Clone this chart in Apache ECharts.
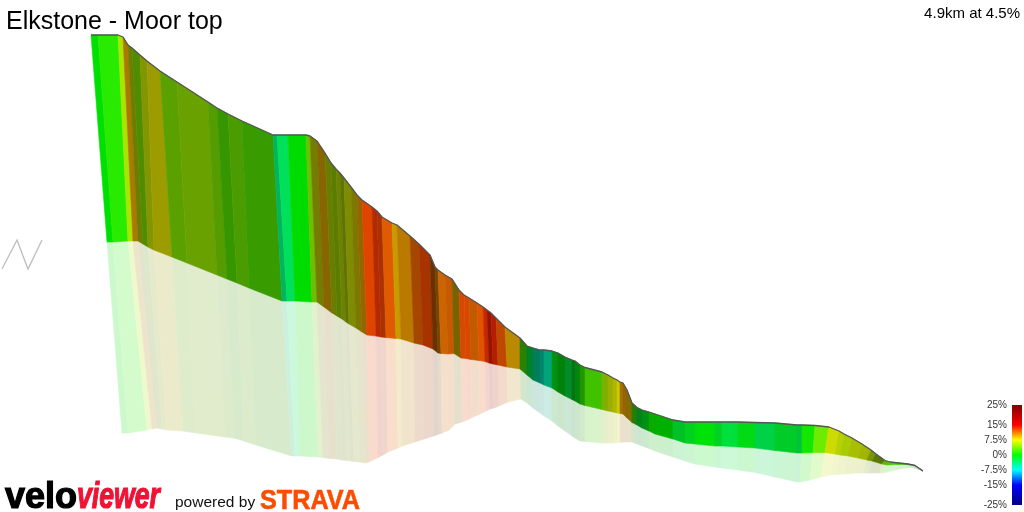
<!DOCTYPE html>
<html><head><meta charset="utf-8">
<style>html,body{margin:0;padding:0;background:#fff}#c{width:1024px;height:512px}</style>
<script src="https://cdn.jsdelivr.net/npm/echarts@6/dist/echarts.min.js"></script>
</head><body><div id="c"></div>
<script>
// Ridge line of the climb
const topX = [91,98,118,123,128,132,140,147,160,177,208,217,228,242,273,277,288,306,310,317,325,331,336,340,344,351,357,362,372,377,382,392,397,410,419,430,435,438,445,452,459,464,469,477,483,487,491,496,505,520,527,533,540,544,552,558,565,572,575,580,585,602,608,613,617,620,623,627,632,637,642,649,655,673,685,695,715,722,738,755,775,797,802,815,829,839,844,852,862,871,876,885,890,899,908,915,923];
const topY = [35,35,35,37,45,48,55,61,71,82,102,108,114,121,135,135,135,135,136,141,153,163,169,173,178,187,195,200,207,211,217,223,225,236,244,255,267,270,275,279,290,295,298,303,307,310,313,318,327,338,346,348,350,350,351,353,357,360,361,365,367.5,372,375,378,380,382,383,390,403,407.5,410,412,414,420,422,422,422,422,422,422.5,423,425,425,425.5,427,431,434,438,444,450,454,460.5,462,463,464,465.5,471];
// Foot of the coloured wall
const wallX = [107,113,128,133,138,143,148,154,172,187,217,227,237,249,282,287,295,312,317,324,332,337,342,346,349,356,362,367,376,381,386,396,401,414,423,433,438,441,448,454,461,466,471,479,485,489,493,498,507,520,527,533,540,544,552,558,565,572,575,580,585,602,608,613,617,620,623,627,632,637,642,649,655,673,685,695,715,722,738,755,775,797,802,813,825,835,840,848,858,867,872,882,887,897,907,915,923];
const wallY = [242,242,241,241,241,244,247,250,257,263,275,279,283,288,301,301,301,302,302,307,313,316,319,322,324,328,332,335,336,337,337.5,338.5,339,343,345,349,353,353.5,354,353.5,358,358.5,359.5,360.5,361.5,363,364,365,367,369,375,380,383,385,388,392,396,399.5,401,404,405.5,409.5,411,412,413,413.5,414,418,422.5,425,428,431,434,439,443,444,446,446,447,448,450.5,453,453,452.5,452.5,454,455,456,458,460,461,464,465,464.5,464.5,465.5,471];
// Edge of the pale shadow below the wall
const floorX = [122,128,147,152,157,160,162,167,183,196,225,234,244,256,292,295,300,318,323,329,337,342,347,351,354,360,366,370,378,383,388,398,402,415,424,434,439,442,449,455,462,467,472,480,486,490,494,499,508,521,527,533,540,544,552,558,565,572,575,580,585,602,608,613,617,620,623,627,632,637,642,649,655,673,685,695,715,722,738,755,775,797,800,810,821,830,836,844,854,864,869,880,885,895,905,912,923];
const floorY = [433,433,430,429,428,428.5,429,430,431,433,437,438,441,445,456,456,456,457,457.5,458.5,459,460,460.5,461,461.5,462,463,461.5,457.5,455,452,448,446,442,439,436,434,433,430,424,422,420,417.5,414,411,409,408,406,402,399,403,408,413,416,421,426,431,436,438,441,441.5,443,443,443,442.5,442.5,442,442,442,444,446,448.5,451,457,461,464,467,468,470,472.5,477,482,482,480,477,475,474.5,474,473,473,473,473,472.5,470,468,467.5,471];
// Gradient (%) and face brightness of each strip
const grade = [0,1.3,5.5,9.7,6.6,4.3,6.5,7.5,4.2,4.9,4.1,2.7,3.6,2.7,-3.8,-3,0,4.3,6.9,9.4,6.3,5.4,6.3,6.2,6.7,7.8,10,12.7,13.3,12.8,12,9.2,10.1,11.8,12.7,11.7,10.4,11.3,11.6,8.8,12.4,12.6,11.5,12.2,13.5,14,13.8,12.2,9.5,2.3,-2.3,-5.4,-6.1,-5.5,-1,-0.6,-2.1,-1.3,-0.6,1.5,2.5,5.4,6.6,7.3,7.3,10,10,8.7,2.4,-1.7,-1,0.4,0,-1.5,-1.1,-0.3,-1.4,-2,-0.7,-2.5,-1.5,-2.3,0.65,3.5,7,6.6,6.2,6.5,6.7,6,5.6,4.2,2.1,2,0.9,-2.2];
const light = [.88,.92,.9,.67,.49,.55,.59,.61,.63,.63,.61,.59,.61,.61,.71,.88,.86,.75,.49,.53,.49,.49,.51,.45,.55,.49,.59,.88,.71,.67,.88,.78,.73,.65,.65,.42,.45,.8,.78,.47,.84,.86,.76,.88,.78,.58,.71,.75,.73,.51,.51,.49,.53,.65,.57,.51,.55,.45,.53,.59,.76,.69,.69,.71,.8,.65,.59,.51,.49,.51,.57,.67,.69,.76,.82,.88,.82,.88,.86,.82,.8,.76,.9,.92,.86,.82,.8,.75,.71,.59,.47,.71,.82,.75,.67,.39];
// Colour scale and its tick labels
const scaleValues = [-25,-15,-7.5,0,7.5,15,25];
const scaleColours = [[0,0,130],[0,0,255],[0,255,255],[0,255,0],[255,255,0],[255,0,0],[130,0,0]];
const titleText = 'Elkstone - Moor top';
const summaryText = '4.9km at 4.5%';

function gradeRGB(g){
  for(let i=0;i<scaleValues.length-1;i++){
    if(g<=scaleValues[i+1]){
      const t=(g-scaleValues[i])/(scaleValues[i+1]-scaleValues[i]);
      return scaleColours[i].map((c,k)=>c+(scaleColours[i+1][k]-c)*t);
    }
  }
  return scaleColours[scaleColours.length-1];
}
const css=c=>'rgb('+c.map(v=>Math.round(v)).join(',')+')';
const wallColour=i=>gradeRGB(grade[i]).map(v=>v*light[i]);
const floorColour=i=>wallColour(i).map(v=>255*.8+v*.2);

const strips=grade.map((g,i)=>[i]);
function stripItem(api,upperX,upperY,lowerX,lowerY,colour){
  const i=api.value(0);
  const pts=[[upperX[i],upperY[i]],[upperX[i+1],upperY[i+1]],[lowerX[i+1],lowerY[i+1]],[lowerX[i],lowerY[i]]].map(p=>api.coord(p));
  const c=css(colour(i));
  return {type:'polygon',shape:{points:pts},style:{fill:c,stroke:c,lineWidth:.6}};
}
const chart=echarts.init(document.getElementById('c'),null,{renderer:'canvas'});
chart.setOption({
  animation:false,
  backgroundColor:'#fff',
  title:[
    {text:titleText,left:6,top:10,padding:0,textStyle:{fontFamily:'Liberation Sans',fontSize:25,fontWeight:'normal',color:'#000'}},
    {text:summaryText,right:4,top:6,padding:0,textStyle:{fontFamily:'Liberation Sans',fontSize:15,fontWeight:'normal',color:'#000'}}
  ],
  grid:[{left:0,top:0,width:1024,height:512},{left:1012,top:405,width:10,height:100}],
  xAxis:[
    {type:'value',min:0,max:1024,show:false,gridIndex:0},
    {type:'value',min:0,max:1,show:false,gridIndex:1}
  ],
  yAxis:[
    {type:'value',min:0,max:512,inverse:true,show:false,gridIndex:0},
    {type:'value',min:-25,max:25,gridIndex:1,position:'left',
     axisLine:{show:false},axisTick:{show:false},splitLine:{show:false},
     axisLabel:{customValues:scaleValues,formatter:v=>v+'%',fontFamily:'Liberation Sans',fontSize:10,color:'#333',margin:5}}
  ],
  series:[
    {type:'custom',coordinateSystem:'cartesian2d',xAxisIndex:0,yAxisIndex:0,silent:true,clip:false,data:strips,
     renderItem:(p,api)=>stripItem(api,wallX,wallY,floorX,floorY,floorColour)},
    {type:'custom',coordinateSystem:'cartesian2d',xAxisIndex:0,yAxisIndex:0,silent:true,clip:false,data:strips,
     renderItem:(p,api)=>stripItem(api,topX,topY,wallX,wallY,wallColour)},
    {type:'line',xAxisIndex:0,yAxisIndex:0,silent:true,symbol:'none',clip:false,
     lineStyle:{color:'#555',width:1.3},data:topX.map((x,i)=>[x,topY[i]])},
    {type:'custom',coordinateSystem:'cartesian2d',xAxisIndex:1,yAxisIndex:1,silent:true,data:[[0]],
     renderItem:(p,api)=>{
       const a=api.coord([0,25]),b=api.coord([1,-25]);
       const stops=scaleValues.map((v,i)=>({offset:(25-v)/50,color:css(scaleColours[i])})).reverse();
       return {type:'rect',shape:{x:a[0],y:a[1],width:b[0]-a[0],height:b[1]-a[1]},
         style:{fill:new echarts.graphic.LinearGradient(0,0,0,1,stops)}};
     }}
  ],
  graphic:[
    {type:'polyline',silent:true,shape:{points:[[2,269],[17,240],[28,269],[42,240]]},style:{stroke:'#bdbdbd',fill:null,lineWidth:1.3}},
    {type:'text',silent:true,x:5,y:516,scaleX:1,style:{text:'velo',textVerticalAlign:'bottom',font:'bold 36px "Liberation Sans"',fill:'#000',stroke:'#000',lineWidth:1.2}},
    {type:'text',silent:true,x:77,y:516,scaleX:.74,style:{text:'viewer',textVerticalAlign:'bottom',font:'italic bold 36px "Liberation Sans"',fill:'#ef1234',stroke:'#ef1234',lineWidth:1.2}},
    {type:'text',silent:true,x:175,y:511,style:{text:'powered by',textVerticalAlign:'bottom',font:'15.5px "Liberation Sans"',fill:'#111'}},
    {type:'text',silent:true,x:260,y:515,scaleX:.9,style:{text:'STRAVA',textVerticalAlign:'bottom',font:'bold 28px "Liberation Sans"',fill:'#fc4c02',stroke:'#fc4c02',lineWidth:.6}}
  ]
});
</script></body></html>
